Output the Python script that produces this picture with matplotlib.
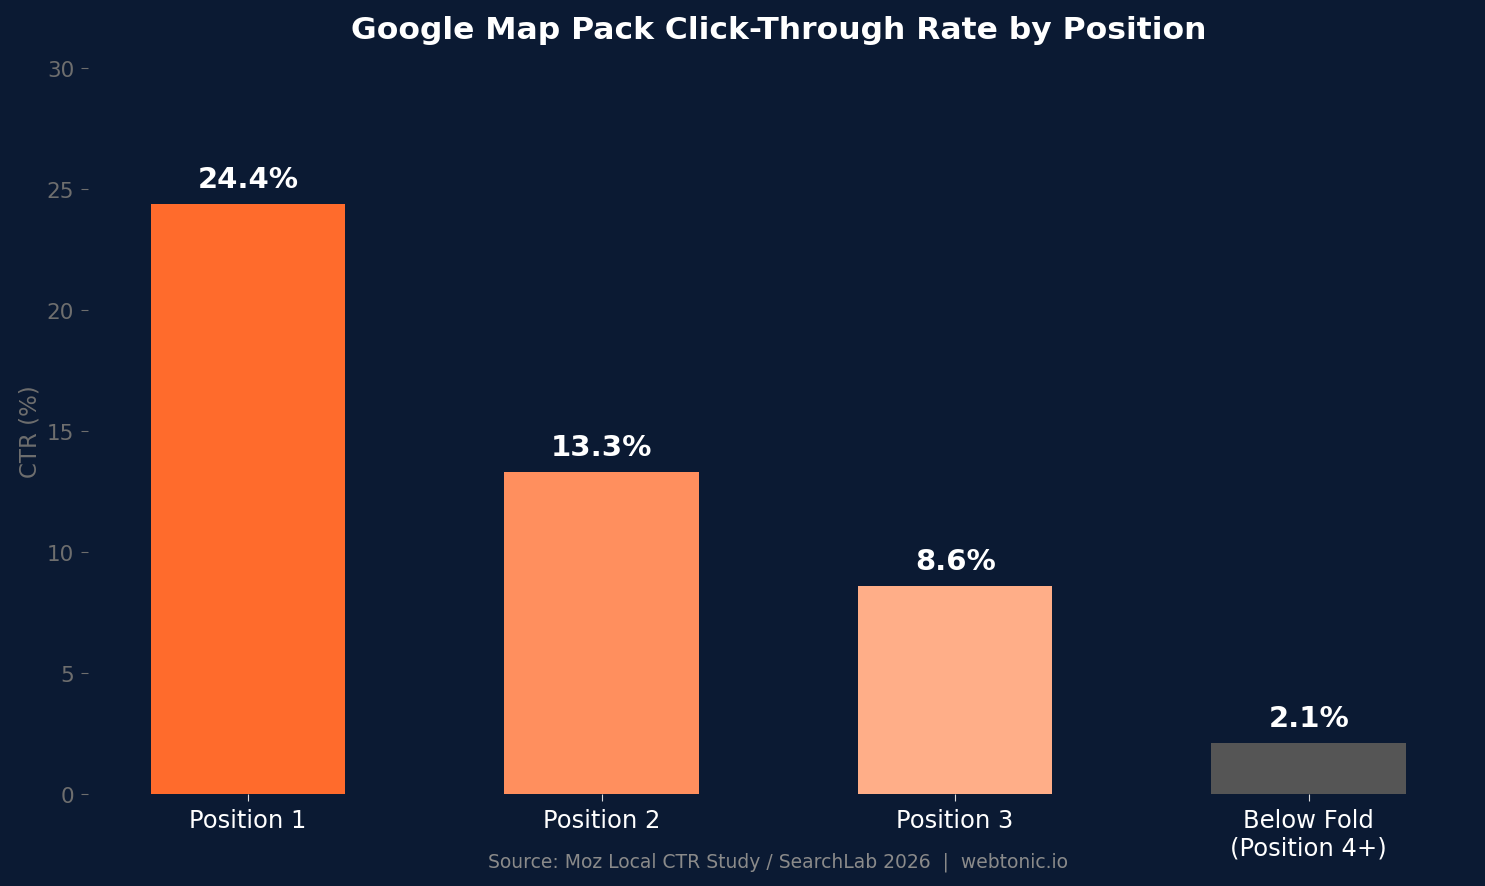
import matplotlib.pyplot as plt

categories = ["Position 1", "Position 2", "Position 3", "Below Fold\n(Position 4+)"]
ctr = [24.4, 13.3, 8.6, 2.1]
bar_colors = ["#ff6b2c", "#ff8f5e", "#ffae88", "#555555"]

bg = "#0b1a33"
grey = "#6e6e6e"

fig, ax = plt.subplots(figsize=(14.85, 8.87), dpi=100)
fig.patch.set_facecolor(bg)
ax.set_facecolor(bg)
fig.subplots_adjust(left=0.0593, right=0.989, top=0.922, bottom=0.1037)

x = range(len(categories))
bars = ax.bar(x, ctr, width=0.55, color=bar_colors)

# value labels above bars
for xi, v in zip(x, ctr):
    ax.text(xi, v + 0.45, f"{v}%", ha="center", va="bottom",
            color="white", fontsize=21, fontweight="bold")

ax.set_ylim(0, 30)
ax.set_yticks(range(0, 31, 5))
ax.set_xticks(list(x))
ax.set_xticklabels(categories, fontsize=17.5, color="white")
ax.tick_params(axis="y", colors=grey, labelsize=15.5, length=5, pad=5)
ax.tick_params(axis="x", colors="#dddddd", length=5, pad=5)
for lbl in ax.get_xticklabels():
    lbl.set_color("white")
ax.set_ylabel("CTR (%)", color=grey, fontsize=16.5, labelpad=4)
ax.set_title("Google Map Pack Click-Through Rate by Position",
             color="white", fontsize=22.6, fontweight="bold", pad=22)
for s in ax.spines.values():
    s.set_visible(False)

ax.text(0.5, -0.092, "Source: Moz Local CTR Study / SearchLab 2026  |  webtonic.io",
        transform=ax.transAxes, ha="center", va="center",
        color="#8a8a8a", fontsize=13.5)

fig.savefig("out.png", facecolor=bg)
